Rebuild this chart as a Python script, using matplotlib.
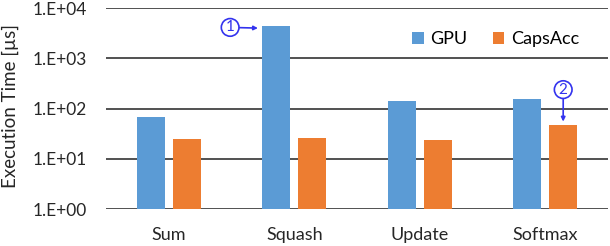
import matplotlib
matplotlib.use("Agg")
import matplotlib.pyplot as plt
import numpy as np

categories = ["Sum", "Squash", "Update", "Softmax"]
gpu = [69, 4470, 140, 152]
capsacc = [24.5, 26, 24, 46]
series_names = ["GPU", "CapsAcc"]
ytick_vals = [1, 10, 100, 1000, 10000]
ytick_labels = ["1.E+00", "1.E+01", "1.E+02", "1.E+03", "1.E+04"]

plt.rcParams['font.family'] = ['Lato', 'DejaVu Sans']

W, H = 610, 246
fig = plt.figure(figsize=(W/100, H/100), dpi=100)
ax = fig.add_axes([106/W, 1-209/H, 502/W, 201/H])

x = np.arange(len(categories))
bw = 0.223
off = 0.143
c_gpu = "#5B9BD5"
c_cap = "#ED7D31"
ax.bar(x - off, gpu, bw, color=c_gpu, label=series_names[0], zorder=3)
ax.bar(x + off, capsacc, bw, color=c_cap, label=series_names[1], zorder=3)

ax.set_yscale("log")
ax.set_ylim(1, 10000)
ax.set_xlim(-0.5, len(categories) - 0.5)
ax.set_yticks(ytick_vals)
ax.set_yticklabels(ytick_labels)
ax.yaxis.set_minor_locator(matplotlib.ticker.NullLocator())
ax.set_xticks(x)
ax.set_xticklabels(categories)
ax.tick_params(axis="both", length=0, labelcolor="#262626")
ax.tick_params(axis="y", pad=14, labelsize=12.5)
ax.tick_params(axis="x", pad=13, labelsize=13)
for s in ax.spines.values():
    s.set_visible(False)
ax.yaxis.grid(True, color="#333333", lw=1.2, zorder=0)
ax.set_axisbelow(True)
ax.set_ylabel("Execution Time [µs]", fontsize=13.5, color="#262626")
ax.yaxis.set_label_coords(-87/502, 0.51)

leg = ax.legend(loc="upper left", bbox_to_anchor=((405-106)/502, 1.0 - 16/201), ncol=2,
                frameon=False, fontsize=13, handlelength=0.65, handleheight=0.65,
                handletextpad=0.35, columnspacing=1.4, borderaxespad=0)

blue = "#3333EE"
ax.annotate("1", xy=(1 - off - bw/2 - 0.035, 10**3.6), xytext=(-20, 0.5),
            textcoords="offset points", ha="center", va="center", fontsize=11, color=blue,
            bbox=dict(boxstyle="circle,pad=0.12", fc="white", ec=blue, lw=1.2),
            arrowprops=dict(arrowstyle="-|>", color=blue, lw=1.2, mutation_scale=6,
                            shrinkA=0, shrinkB=0))
ax.annotate("2", xy=(3 + off, 10**((209-122)/50)), xytext=(0, 23),
            textcoords="offset points", ha="center", va="center", fontsize=11, color=blue,
            bbox=dict(boxstyle="circle,pad=0.12", fc="white", ec=blue, lw=1.2),
            arrowprops=dict(arrowstyle="-|>", color=blue, lw=1.2, mutation_scale=6,
                            shrinkA=0, shrinkB=0))

fig.savefig("out.png", dpi=100)
